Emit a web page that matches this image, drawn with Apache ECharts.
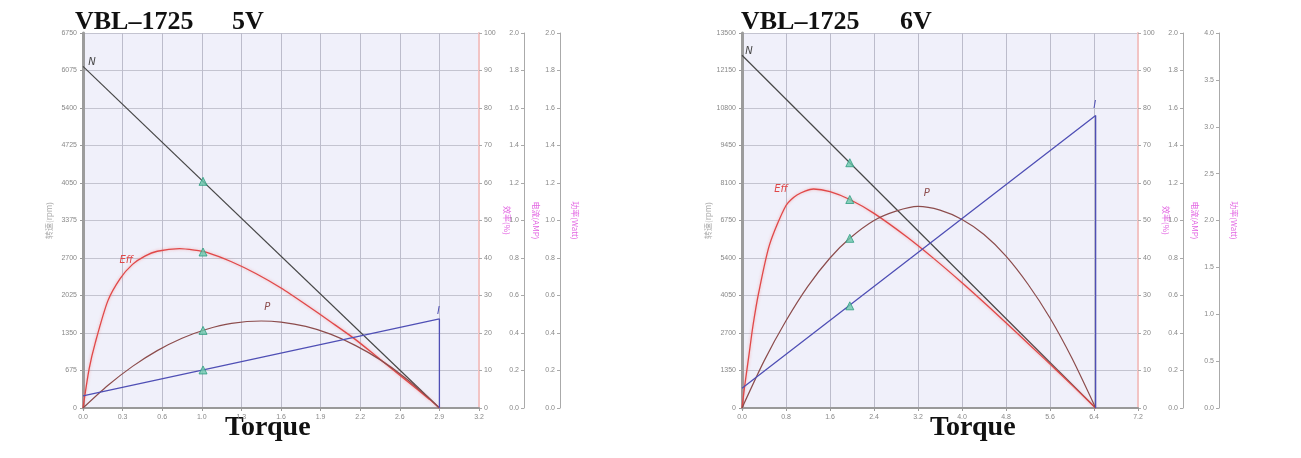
<!DOCTYPE html>
<html>
<head>
<meta charset="utf-8">
<title>VBL-1725</title>
<script src="https://cdn.jsdelivr.net/npm/echarts@6/dist/echarts.min.js"></script>
<style>
    html, body { margin: 0; padding: 0; background: #fff; }
    #main { width: 1301px; height: 458px; }
</style>
</head>
<body>
<div id="main"></div>
<script>
// ---- 5V curves (torque on x) ----
var torque5Ticks = ['0.0', '0.3', '0.6', '1.0', '1.3', '1.6', '1.9', '2.2', '2.6', '2.9', '3.2'];
var speed5Torque = [0, 2.88];
var speed5 = [6150, 0];
var eff5Torque = [0, 0.05, 0.1, 0.2, 0.3, 0.4, 0.5, 0.6, 0.78, 0.9, 1.0, 1.2, 1.4, 1.6, 1.8, 2.0, 2.2, 2.4, 2.6, 2.8, 2.88];
var eff5 = [0, 10.5, 17.5, 28.5, 34.5, 38.3, 40.5, 41.8, 42.5, 42.1, 41.5, 39.0, 35.8, 32.0, 27.6, 23.0, 18.3, 13.0, 7.7, 2.3, 0];
var power5Torque = [0, 0.2, 0.4, 0.6, 0.8, 1.0, 1.2, 1.44, 1.6, 1.8, 2.0, 2.2, 2.4, 2.6, 2.8, 2.88];
var power5 = [0, 0.12, 0.222, 0.306, 0.372, 0.42, 0.451, 0.464, 0.458, 0.435, 0.394, 0.334, 0.258, 0.163, 0.05, 0];
var current5Torque = [0, 2.88, 2.88];
var current5 = [0.065, 0.475, 0];
// operating point: torque, speed, eff, power, current
var op5 = [0.97, 4080, 41.6, 0.414, 0.203];

// ---- 6V curves ----
var torque6Ticks = ['0.0', '0.8', '1.6', '2.4', '3.2', '4.0', '4.8', '5.6', '6.4', '7.2'];
var speed6Torque = [0, 6.43];
var speed6 = [12700, 0];
var eff6Torque = [0, 0.05, 0.13, 0.2, 0.3, 0.5, 0.8, 1.0, 1.3, 1.6, 1.96, 2.4, 3.0, 3.5, 4.0, 4.5, 5.0, 5.5, 6.0, 6.43];
var eff6 = [0, 6, 14.5, 22, 30.5, 43.5, 54, 56.8, 58.4, 57.7, 55.6, 51.9, 45.6, 39.7, 33.4, 26.8, 20.0, 13.1, 6.1, 0];
var power6Torque = [0, 0.4, 0.8, 1.2, 1.6, 1.96, 2.4, 2.8, 3.2, 3.6, 4.0, 4.4, 4.8, 5.2, 5.6, 6.0, 6.43];
var power6 = [0, 0.5, 0.93, 1.3, 1.6, 1.81, 2.0, 2.1, 2.15, 2.11, 2.01, 1.85, 1.62, 1.32, 0.96, 0.53, 0];
var current6Torque = [0, 6.43, 6.43];
var current6 = [0.105, 1.56, 0];
var op6 = [1.96, 8830, 55.6, 1.81, 0.545];

var chart = echarts.init(document.getElementById('main'));

var C_N = '#474747', C_EFF = '#e04848', C_P = '#8c4c4c', C_I = '#4f4fb5';
var MAGENTA = '#e264e2';

function pairs(xs, ys) {
    return xs.map(function (x, i) { return [x, ys[i]]; });
}

function gridBox(left) {
    return {
        left: left, top: 33, width: 396, height: 375,
        show: true, backgroundColor: '#f0f0fa', borderWidth: 0
    };
}

function xAxisOf(g, max, step, ticks) {
    return {
        gridIndex: g, type: 'value', min: 0, max: max, interval: step,
        axisLine: { lineStyle: { color: '#999', width: 2 } },
        axisTick: { show: true, length: 3, lineStyle: { color: '#999' } },
        axisLabel: {
            color: '#888', fontSize: 7, margin: 6,
            formatter: function (v) { return ticks[Math.round(v / step)] || ''; }
        },
        splitLine: { show: true, lineStyle: { color: '#bcbccb', width: 1 } }
    };
}

function yAxesOf(g, speedMax, powerMax, powerStep) {
    var small = { color: '#888', fontSize: 7 };
    return [
        {
            gridIndex: g, type: 'value', position: 'left', min: 0, max: speedMax, interval: speedMax / 10,
            name: '转速(rpm)', nameLocation: 'middle', nameGap: 30, nameRotate: 90,
            nameTextStyle: { color: '#aaa', fontSize: 8, fontFamily: 'Noto Sans CJK SC' },
            axisLine: { show: true, lineStyle: { color: '#9c9c9c', width: 3 } },
            axisTick: { show: true, length: 3, lineStyle: { color: '#999' } },
            axisLabel: Object.assign({ margin: 6, formatter: function (v) { return String(v); } }, small),
            splitLine: { show: true, lineStyle: { color: '#c4c4d0', width: 1 } }
        },
        {
            gridIndex: g, type: 'value', position: 'right', offset: 0, min: 0, max: 100, interval: 10,
            name: '效率(%)', nameLocation: 'middle', nameGap: 24, nameRotate: -90,
            nameTextStyle: { color: MAGENTA, fontSize: 8, fontFamily: 'Noto Sans CJK SC' },
            axisLine: { show: true, lineStyle: { color: '#f2c4c4', width: 2 } },
            axisTick: { show: true, length: 3, lineStyle: { color: '#aaa' } },
            axisLabel: Object.assign({ margin: 5 }, small),
            splitLine: { show: false }
        },
        {
            gridIndex: g, type: 'value', position: 'right', offset: 45, min: 0, max: 2, interval: 0.2,
            name: '电流(AMP)', nameLocation: 'middle', nameGap: 8, nameRotate: -90,
            nameTextStyle: { color: MAGENTA, fontSize: 8, fontFamily: 'Noto Sans CJK SC' },
            axisLine: { show: true, lineStyle: { color: '#aaa', width: 1 } },
            axisTick: { show: true, inside: true, length: 3, lineStyle: { color: '#aaa' } },
            axisLabel: Object.assign({ inside: true, margin: 5, formatter: function (v) { return v.toFixed(1); } }, small),
            splitLine: { show: false }
        },
        {
            gridIndex: g, type: 'value', position: 'right', offset: 81, min: 0, max: powerMax, interval: powerStep,
            name: '功率(Watt)', nameLocation: 'middle', nameGap: 11, nameRotate: -90,
            nameTextStyle: { color: MAGENTA, fontSize: 8, fontFamily: 'Noto Sans CJK SC' },
            axisLine: { show: true, lineStyle: { color: '#aaa', width: 1 } },
            axisTick: { show: true, inside: true, length: 3, lineStyle: { color: '#aaa' } },
            axisLabel: Object.assign({ inside: true, margin: 5, formatter: function (v) { return v.toFixed(1); } }, small),
            splitLine: { show: false }
        }
    ];
}

function curve(g, axis, data, color, width, tag, tagAt, tagOffset, glow) {
    var s = {
        type: 'line', xAxisIndex: g, yAxisIndex: g * 4 + axis,
        data: data, symbol: 'none', smooth: data.length > 3 ? 0.25 : false,
        lineStyle: { color: color, width: width },
        z: 3,
        markPoint: {
            symbol: 'circle', symbolSize: 0, silent: true,
            label: {
                show: true, formatter: tag, color: color, fontSize: 10,
                fontStyle: 'italic', fontFamily: 'DejaVu Sans', offset: tagOffset
            },
            data: [{ coord: tagAt }]
        }
    };
    if (glow) {
        s.lineStyle.shadowColor = 'rgba(245,120,120,0.6)';
        s.lineStyle.shadowBlur = 3;
    }
    return s;
}

function tri(g, axis, x, y) {
    return {
        type: 'scatter', xAxisIndex: g, yAxisIndex: g * 4 + axis,
        data: [[x, y]], symbol: 'triangle', symbolSize: 8, z: 5,
        itemStyle: { color: '#6cc8ac', borderColor: '#2e9c80', borderWidth: 1 }
    };
}

function chartSeries(g, sT, s, eT, e, pT, p, iT, i, op, tags) {
    var list = [
        curve(g, 0, pairs(sT, s), C_N, 1.2, 'N', [sT[0], s[0]], tags.n),
        curve(g, 1, pairs(eT, e), C_EFF, 1.3, 'Eff', tags.effAt, tags.eff, true),
        curve(g, 3, pairs(pT, p), C_P, 1.2, 'P', tags.pAt, tags.p),
        curve(g, 2, pairs(iT, i), C_I, 1.3, 'I', [iT[1], i[1]], tags.i)
    ];
    list[3].smooth = false;
    list.push(tri(g, 0, op[0], op[1]));
    list.push(tri(g, 1, op[0], op[2]));
    list.push(tri(g, 3, op[0], op[3]));
    list.push(tri(g, 2, op[0], op[4]));
    return list;
}

var serif = 'bold 26px "Liberation Serif", "DejaVu Serif", serif';
var serifT = 'bold 28px "Liberation Serif", "DejaVu Serif", serif';

var option = {
    animation: false,
    backgroundColor: '#fff',
    grid: [gridBox(83), gridBox(742)],
    xAxis: [xAxisOf(0, 3.2, 0.32, torque5Ticks), xAxisOf(1, 7.2, 0.8, torque6Ticks)],
    yAxis: yAxesOf(0, 6750, 2, 0.2).concat(yAxesOf(1, 13500, 4, 0.5)),
    series: chartSeries(0, speed5Torque, speed5, eff5Torque, eff5, power5Torque, power5,
        current5Torque, current5, op5,
        { n: [9, -4], effAt: [0.35, 36.5], eff: [0, -11], pAt: [1.49, 0.464], p: [0, -14], i: [-1, -8] })
        .concat(chartSeries(1, speed6Torque, speed6, eff6Torque, eff6, power6Torque, power6,
        current6Torque, current6, op6,
        { n: [7, -4], effAt: [0.71, 52.5], eff: [0, -22], pAt: [3.36, 2.14], p: [0, -14], i: [-1, -10] })),
    graphic: [
        { type: 'text', left: 75, top: 9, style: { text: 'VBL–1725', font: serif, fill: '#111' } },
        { type: 'text', left: 232, top: 9, style: { text: '5V', font: serif, fill: '#111' } },
        { type: 'text', left: 741, top: 9, style: { text: 'VBL–1725', font: serif, fill: '#111' } },
        { type: 'text', left: 900, top: 9, style: { text: '6V', font: serif, fill: '#111' } },
        { type: 'text', left: 225, top: 414, style: { text: 'Torque', font: serifT, fill: '#111' } },
        { type: 'text', left: 930, top: 414, style: { text: 'Torque', font: serifT, fill: '#111' } }
    ]
};

chart.setOption(option);
window.onresize = function () { chart.resize(); };
</script>
</body>
</html>
